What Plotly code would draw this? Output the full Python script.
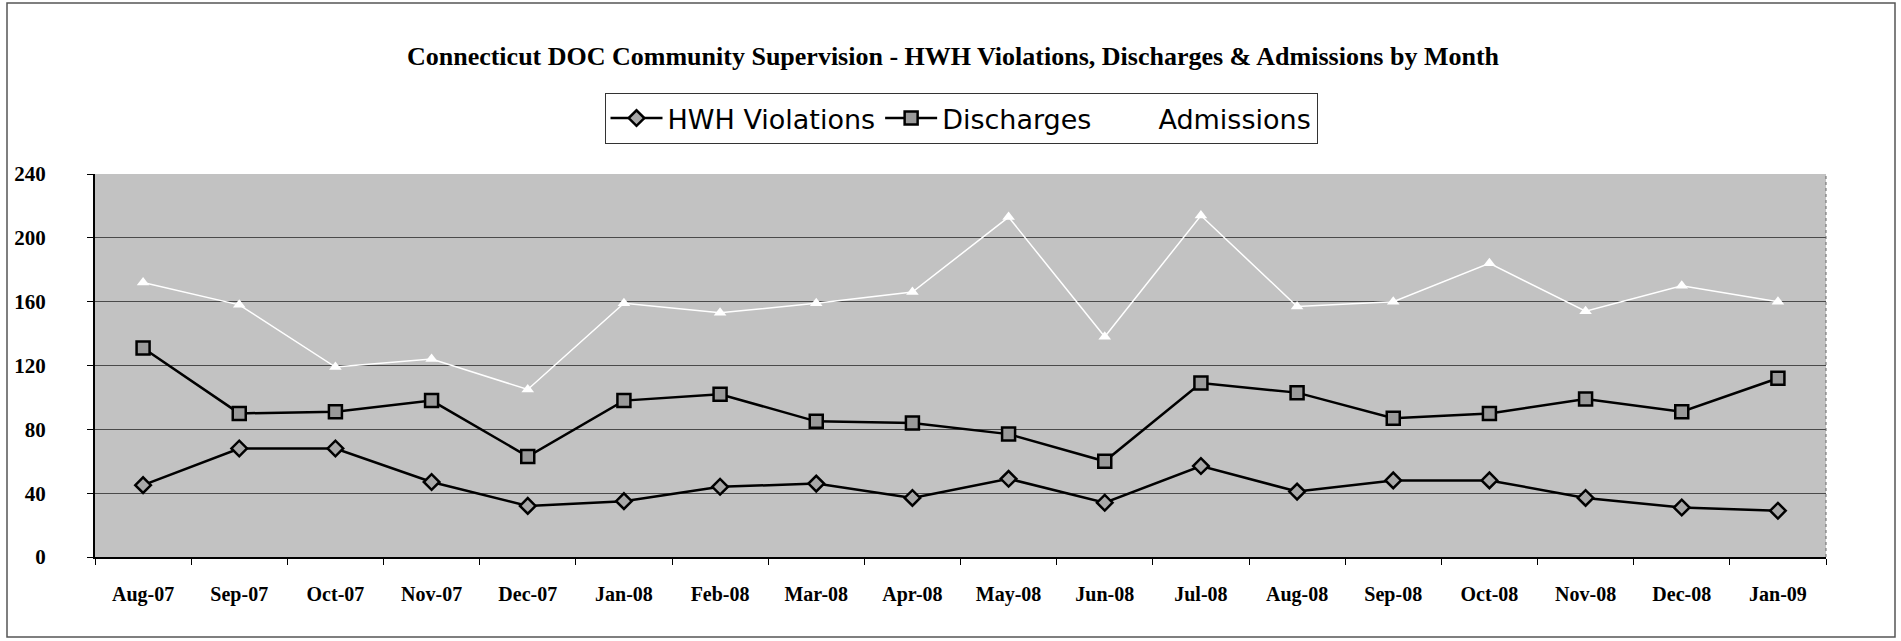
import plotly.graph_objects as go

months = ["Aug-07", "Sep-07", "Oct-07", "Nov-07", "Dec-07", "Jan-08", "Feb-08", "Mar-08", "Apr-08",
          "May-08", "Jun-08", "Jul-08", "Aug-08", "Sep-08", "Oct-08", "Nov-08", "Dec-08", "Jan-09"]
hwh_violations = [45, 68, 68, 47, 32, 35, 44, 46, 37, 49, 34, 57, 41, 48, 48, 37, 31, 29]
discharges = [131, 90, 91, 98, 63, 98, 102, 85, 84, 77, 60, 109, 103, 87, 90, 99, 91, 112]
admissions = [172, 158, 119, 124, 105, 159, 153, 159, 166, 213, 138, 214, 157, 160, 184, 154, 170, 160]
y_ticks = [0, 40, 80, 120, 160, 200, 240]

W, H = 1901, 641
L, R, T, B = 95, 1826, 174, 557

fig = go.Figure()
fig.add_trace(go.Scatter(
    x=months, y=hwh_violations, name="HWH Violations", mode="lines+markers",
    line=dict(color="black", width=2.5),
    marker=dict(symbol="diamond", size=12, color="#a8a8a8", line=dict(color="black", width=2.5)),
))
fig.add_trace(go.Scatter(
    x=months, y=discharges, name="Discharges", mode="lines+markers",
    line=dict(color="black", width=2.5),
    marker=dict(symbol="square", size=13, color="#9a9a9a", line=dict(color="black", width=2.5)),
))
fig.add_trace(go.Scatter(
    x=months, y=admissions, name="Admissions", mode="lines+markers",
    line=dict(color="white", width=1.5),
    marker=dict(symbol="triangle-up", size=11, color="white", line=dict(width=0)),
))

serif = "Liberation Serif, Times New Roman, serif"

def px_x(px):
    return (px - L) / (R - L)

def px_y(py):
    return (B - py) / (B - T)

fig.update_layout(
    width=W, height=H,
    margin=dict(l=L, r=W - R, t=T, b=H - B, autoexpand=False),
    paper_bgcolor="white",
    plot_bgcolor="#c2c2c2",
    title=dict(
        text="<b>Connecticut DOC Community Supervision - HWH Violations, Discharges &amp; Admissions by Month</b>",
        x=953 / W, xanchor="center", y=1 - 56 / H, yanchor="middle",
        font=dict(family=serif, size=26, color="black"),
    ),
    legend=dict(
        orientation="h", x=px_x(961), xanchor="center", y=px_y(93), yanchor="top",
        bgcolor="white", bordercolor="#333", borderwidth=1,
        font=dict(family="DejaVu Sans, Liberation Sans, sans-serif", size=27, color="black"),
        itemwidth=52, tracegroupgap=0,
    ),
    showlegend=True,
    xaxis=dict(
        type="category", categoryorder="array", categoryarray=months,
        range=[-0.5, len(months) - 0.5],
        showgrid=False, showline=True, linecolor="black", linewidth=2,
        ticks="outside", tickson="boundaries", ticklen=6, tickcolor="black",
        tickfont=dict(family=serif, size=20, color="black", weight="bold"),
        ticklabelstandoff=18,
    ),
    yaxis=dict(
        range=[0, 240], tickvals=y_ticks, ticktext=[str(v) for v in y_ticks],
        showgrid=True, gridcolor="#4a4a4a", gridwidth=1,
        showline=True, linecolor="black", linewidth=2,
        ticks="outside", ticklen=6, tickcolor="black",
        tickfont=dict(family=serif, size=21, color="black", weight="bold"),
        ticklabelstandoff=37,
        zeroline=False,
    ),
    shapes=[
        dict(type="rect", xref="paper", yref="paper",
             x0=px_x(7), x1=px_x(1895), y0=px_y(637), y1=px_y(3),
             line=dict(color="#555", width=1.5), fillcolor="rgba(0,0,0,0)", layer="below"),
        dict(type="line", xref="paper", yref="paper",
             x0=1, x1=1, y0=0, y1=1, line=dict(color="#666", width=1, dash="dot")),
    ],
)

fig.write_html("out.html", config={"displayModeBar": False},
               post_script="document.body.style.margin='0';")
